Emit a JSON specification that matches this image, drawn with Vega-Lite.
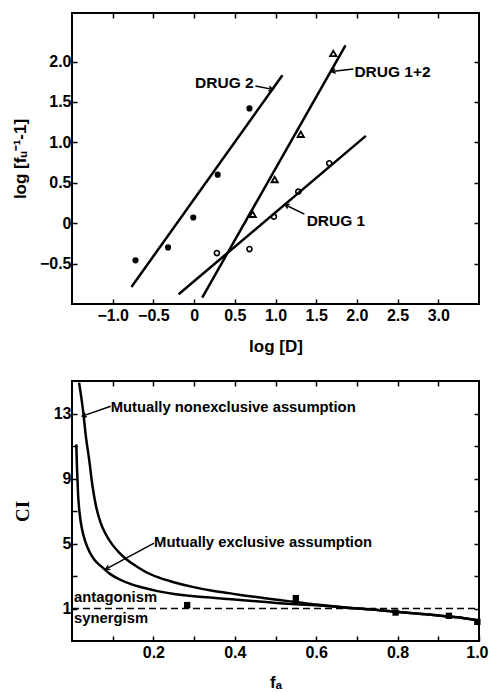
{
  "$schema": "https://vega.github.io/schema/vega-lite/v6.json",
  "background": "white",
  "padding": {"left": 10, "top": 11, "right": 5, "bottom": 0},
  "spacing": 21,
  "config": {
    "view": {"stroke": "black", "strokeWidth": 2},
    "font": "Liberation Sans",
    "axis": {
      "domain": false, "grid": false, "tickColor": "black", "tickSize": -5, "tickWidth": 1.5,
      "labelFont": "Liberation Sans", "labelFontSize": 16, "labelFontWeight": "bold", "labelColor": "black",
      "labelOverlap": false, "labelFlush": false,
      "titleFont": "Liberation Sans", "titleFontSize": 17, "titleFontWeight": "bold", "titleColor": "black"
    }
  },
  "datasets": {
    "fits": [
      {"drug": "DRUG 2", "x": -0.77, "y": -0.79}, {"drug": "DRUG 2", "x": 1.085, "y": 1.83},
      {"drug": "DRUG 1", "x": -0.19, "y": -0.88}, {"drug": "DRUG 1", "x": 2.11, "y": 1.08},
      {"drug": "DRUG 1+2", "x": 0.10, "y": -0.92}, {"drug": "DRUG 1+2", "x": 1.86, "y": 2.20}
    ],
    "obs": [
      {"drug": "DRUG 2", "x": -0.72, "y": -0.46}, {"drug": "DRUG 2", "x": -0.32, "y": -0.30},
      {"drug": "DRUG 2", "x": -0.01, "y": 0.07}, {"drug": "DRUG 2", "x": 0.29, "y": 0.60},
      {"drug": "DRUG 2", "x": 0.68, "y": 1.42},
      {"drug": "DRUG 1", "x": 0.28, "y": -0.37}, {"drug": "DRUG 1", "x": 0.68, "y": -0.32},
      {"drug": "DRUG 1", "x": 0.98, "y": 0.08}, {"drug": "DRUG 1", "x": 1.28, "y": 0.39},
      {"drug": "DRUG 1", "x": 1.66, "y": 0.74},
      {"drug": "DRUG 1+2", "x": 0.72, "y": 0.11}, {"drug": "DRUG 1+2", "x": 0.99, "y": 0.54},
      {"drug": "DRUG 1+2", "x": 1.31, "y": 1.10}, {"drug": "DRUG 1+2", "x": 1.71, "y": 2.10}
    ],
    "arrowsTop": [
      {"arrow": "DRUG 2", "end": "tail", "x": 0.753, "y": 1.696}, {"arrow": "DRUG 2", "end": "head", "x": 0.966, "y": 1.655},
      {"arrow": "DRUG 1+2", "end": "tail", "x": 1.957, "y": 1.906}, {"arrow": "DRUG 1+2", "end": "head", "x": 1.687, "y": 1.875},
      {"arrow": "DRUG 1", "end": "tail", "x": 1.355, "y": 0.111}, {"arrow": "DRUG 1", "end": "head", "x": 1.118, "y": 0.228}
    ],
    "labelsTop": [
      {"text": "DRUG 2", "x": 0.012, "y": 1.733},
      {"text": "DRUG 1+2", "x": 1.969, "y": 1.875},
      {"text": "DRUG 1", "x": 1.383, "y": 0.025}
    ],
    "curves": [
      {"model": "nonexclusive", "fa": 0.0174, "ci": 14.9},
      {"model": "nonexclusive", "fa": 0.028, "ci": 13.0},
      {"model": "nonexclusive", "fa": 0.034, "ci": 11.6},
      {"model": "nonexclusive", "fa": 0.042, "ci": 10.2},
      {"model": "nonexclusive", "fa": 0.050, "ci": 8.6},
      {"model": "nonexclusive", "fa": 0.059, "ci": 7.3},
      {"model": "nonexclusive", "fa": 0.070, "ci": 6.3},
      {"model": "nonexclusive", "fa": 0.083, "ci": 5.57},
      {"model": "nonexclusive", "fa": 0.100, "ci": 4.9},
      {"model": "nonexclusive", "fa": 0.116, "ci": 4.44},
      {"model": "nonexclusive", "fa": 0.135, "ci": 4.0},
      {"model": "nonexclusive", "fa": 0.157, "ci": 3.62},
      {"model": "nonexclusive", "fa": 0.185, "ci": 3.2},
      {"model": "nonexclusive", "fa": 0.214, "ci": 2.9},
      {"model": "nonexclusive", "fa": 0.250, "ci": 2.62},
      {"model": "nonexclusive", "fa": 0.296, "ci": 2.33},
      {"model": "nonexclusive", "fa": 0.345, "ci": 2.09},
      {"model": "nonexclusive", "fa": 0.390, "ci": 1.93},
      {"model": "nonexclusive", "fa": 0.427, "ci": 1.78},
      {"model": "nonexclusive", "fa": 0.470, "ci": 1.65},
      {"model": "nonexclusive", "fa": 0.509, "ci": 1.52},
      {"model": "nonexclusive", "fa": 0.550, "ci": 1.40},
      {"model": "nonexclusive", "fa": 0.600, "ci": 1.24},
      {"model": "nonexclusive", "fa": 0.670, "ci": 1.06},
      {"model": "nonexclusive", "fa": 0.730, "ci": 0.95},
      {"model": "nonexclusive", "fa": 0.795, "ci": 0.80},
      {"model": "nonexclusive", "fa": 0.860, "ci": 0.66},
      {"model": "nonexclusive", "fa": 0.918, "ci": 0.53},
      {"model": "nonexclusive", "fa": 0.960, "ci": 0.42},
      {"model": "nonexclusive", "fa": 1.000, "ci": 0.25},
      {"model": "exclusive", "fa": 0.0105, "ci": 11.1},
      {"model": "exclusive", "fa": 0.0125, "ci": 9.5},
      {"model": "exclusive", "fa": 0.015, "ci": 8.0},
      {"model": "exclusive", "fa": 0.019, "ci": 6.8},
      {"model": "exclusive", "fa": 0.0256, "ci": 5.77},
      {"model": "exclusive", "fa": 0.033, "ci": 5.1},
      {"model": "exclusive", "fa": 0.042, "ci": 4.54},
      {"model": "exclusive", "fa": 0.055, "ci": 4.0},
      {"model": "exclusive", "fa": 0.075, "ci": 3.52},
      {"model": "exclusive", "fa": 0.095, "ci": 3.1},
      {"model": "exclusive", "fa": 0.116, "ci": 2.8},
      {"model": "exclusive", "fa": 0.145, "ci": 2.5},
      {"model": "exclusive", "fa": 0.173, "ci": 2.29},
      {"model": "exclusive", "fa": 0.210, "ci": 2.07},
      {"model": "exclusive", "fa": 0.255, "ci": 1.88},
      {"model": "exclusive", "fa": 0.300, "ci": 1.75},
      {"model": "exclusive", "fa": 0.345, "ci": 1.66},
      {"model": "exclusive", "fa": 0.400, "ci": 1.55},
      {"model": "exclusive", "fa": 0.460, "ci": 1.43},
      {"model": "exclusive", "fa": 0.509, "ci": 1.33},
      {"model": "exclusive", "fa": 0.550, "ci": 1.26},
      {"model": "exclusive", "fa": 0.600, "ci": 1.20},
      {"model": "exclusive", "fa": 0.670, "ci": 1.06},
      {"model": "exclusive", "fa": 0.730, "ci": 0.95},
      {"model": "exclusive", "fa": 0.795, "ci": 0.80},
      {"model": "exclusive", "fa": 0.860, "ci": 0.66},
      {"model": "exclusive", "fa": 0.918, "ci": 0.53},
      {"model": "exclusive", "fa": 0.960, "ci": 0.42},
      {"model": "exclusive", "fa": 1.000, "ci": 0.25}
    ],
    "ciObs": [
      {"fa": 0.283, "ci": 1.21}, {"fa": 0.55, "ci": 1.64}, {"fa": 0.795, "ci": 0.75},
      {"fa": 0.926, "ci": 0.55}, {"fa": 0.996, "ci": 0.18}
    ],
    "refline": [{"fa": 0, "ci": 1}, {"fa": 1, "ci": 1}],
    "arrowsBot": [
      {"arrow": "nonexclusive", "end": "tail", "fa": 0.095, "ci": 13.45}, {"arrow": "nonexclusive", "end": "head", "fa": 0.0255, "ci": 12.84},
      {"arrow": "exclusive", "end": "tail", "fa": 0.2017, "ci": 5.02}, {"arrow": "exclusive", "end": "head", "fa": 0.083, "ci": 3.42}
    ],
    "labelsBot": [
      {"text": "Mutually nonexclusive assumption", "fa": 0.095, "ci": 13.35},
      {"text": "Mutually exclusive assumption", "fa": 0.2017, "ci": 5.05},
      {"text": "antagonism", "fa": 0.005, "ci": 1.65},
      {"text": "synergism", "fa": 0.005, "ci": 0.35}
    ]
  },
  "vconcat": [
    {
      "width": 407, "height": 291,
      "resolve": {"axis": {"x": "independent", "y": "independent"}},
      "layer": [
        {
          "data": {"name": "fits"},
          "mark": {"type": "line", "color": "black", "strokeWidth": 2.5},
          "encoding": {
            "x": {"field": "x", "type": "quantitative", "scale": {"domain": [-1.5, 3.5], "nice": false, "zero": false},
                  "axis": {"orient": "bottom", "values": [-1, -0.5, 0, 0.5, 1, 1.5, 2, 2.5, 3], "labelExpr": "datum.value == 0 ? '0' : format(datum.value, '.1f')", "labelPadding": 8, "title": "log [D]", "titlePadding": 15}},
            "y": {"field": "y", "type": "quantitative", "scale": {"domain": [-1, 2.6], "nice": false, "zero": false},
                  "axis": {"orient": "left", "values": [-0.5, 0, 0.5, 1, 1.5, 2], "labelExpr": "datum.value == 0 ? '0' : format(datum.value, '.1f')", "labelPadding": 6, "title": "log [fᵤ⁻¹-1]", "titlePadding": 10}},
            "detail": {"field": "drug"}
          }
        },
        {
          "data": {"name": "obs"},
          "transform": [{"filter": "datum.drug == 'DRUG 2'"}],
          "mark": {"type": "point", "shape": "circle", "filled": true, "color": "black", "size": 38, "opacity": 1},
          "encoding": {
            "x": {"field": "x", "type": "quantitative", "axis": {"orient": "top", "values": [-1, -0.5, 0, 0.5, 1, 1.5, 2, 2.5, 3], "labels": false, "title": null}},
            "y": {"field": "y", "type": "quantitative", "axis": {"orient": "right", "values": [-0.5, 0, 0.5, 1, 1.5, 2], "labels": false, "title": null}}
          }
        },
        {
          "data": {"name": "obs"},
          "transform": [{"filter": "datum.drug == 'DRUG 1'"}],
          "mark": {"type": "point", "shape": "circle", "filled": false, "color": "black", "size": 26, "strokeWidth": 1.6, "opacity": 1},
          "encoding": {
            "x": {"field": "x", "type": "quantitative", "axis": null},
            "y": {"field": "y", "type": "quantitative", "axis": null}
          }
        },
        {
          "data": {"name": "obs"},
          "transform": [{"filter": "datum.drug == 'DRUG 1+2'"}],
          "mark": {"type": "point", "shape": "triangle-up", "filled": false, "color": "black", "size": 40, "strokeWidth": 1.8, "opacity": 1},
          "encoding": {
            "x": {"field": "x", "type": "quantitative", "axis": null},
            "y": {"field": "y", "type": "quantitative", "axis": null}
          }
        },
        {
          "data": {"name": "arrowsTop"},
          "mark": {"type": "line", "color": "black", "strokeWidth": 1.5},
          "encoding": {
            "x": {"field": "x", "type": "quantitative", "axis": null},
            "y": {"field": "y", "type": "quantitative", "axis": null},
            "detail": {"field": "arrow"}
          }
        },
        {
          "data": {"name": "arrowsTop"},
          "transform": [{"filter": "datum.end == 'head' && datum.arrow == 'DRUG 2'"}],
          "mark": {"type": "point", "shape": "M-1,-0.6L0,0L-1,0.6", "filled": false, "color": "black", "strokeWidth": 1.5, "size": 60, "angle": 11, "opacity": 1},
          "encoding": {
            "x": {"field": "x", "type": "quantitative", "axis": null},
            "y": {"field": "y", "type": "quantitative", "axis": null}
          }
        },
        {
          "data": {"name": "arrowsTop"},
          "transform": [{"filter": "datum.end == 'head' && datum.arrow == 'DRUG 1+2'"}],
          "mark": {"type": "point", "shape": "M-1,-0.6L0,0L-1,0.6", "filled": false, "color": "black", "strokeWidth": 1.5, "size": 60, "angle": 170, "opacity": 1},
          "encoding": {
            "x": {"field": "x", "type": "quantitative", "axis": null},
            "y": {"field": "y", "type": "quantitative", "axis": null}
          }
        },
        {
          "data": {"name": "arrowsTop"},
          "transform": [{"filter": "datum.end == 'head' && datum.arrow == 'DRUG 1'"}],
          "mark": {"type": "point", "shape": "M-1,-0.6L0,0L-1,0.6", "filled": false, "color": "black", "strokeWidth": 1.5, "size": 60, "angle": 205, "opacity": 1},
          "encoding": {
            "x": {"field": "x", "type": "quantitative", "axis": null},
            "y": {"field": "y", "type": "quantitative", "axis": null}
          }
        },
        {
          "data": {"name": "labelsTop"},
          "mark": {"type": "text", "align": "left", "baseline": "middle", "font": "Liberation Sans", "fontWeight": "bold", "fontSize": 15.5, "color": "black"},
          "encoding": {
            "x": {"field": "x", "type": "quantitative", "axis": null},
            "y": {"field": "y", "type": "quantitative", "axis": null},
            "text": {"field": "text"}
          }
        }
      ]
    },
    {
      "width": 407, "height": 260,
      "resolve": {"axis": {"x": "independent", "y": "independent"}},
      "layer": [
        {
          "data": {"name": "curves"},
          "mark": {"type": "line", "color": "black", "strokeWidth": 2.5, "interpolate": "monotone"},
          "encoding": {
            "x": {"field": "fa", "type": "quantitative", "scale": {"domain": [0, 1], "nice": false, "zero": false},
                  "axis": {"orient": "bottom", "values": [0.1, 0.2, 0.3, 0.4, 0.5, 0.6, 0.7, 0.8, 0.9, 1.0], "labelExpr": "round(datum.value * 10) % 2 == 0 ? format(datum.value, '.1f') : ''", "labelPadding": 8, "labelFlush": true, "labelFlushOffset": 9, "title": "fₐ", "titlePadding": 14}},
            "y": {"field": "ci", "type": "quantitative", "scale": {"domain": [-1, 15], "nice": false, "zero": false},
                  "axis": {"orient": "left", "values": [1, 3, 5, 7, 9, 11, 13], "labelExpr": "(datum.value - 1) % 4 == 0 ? datum.label : ''", "labelPadding": 6, "title": "CI", "titleFont": "Liberation Serif", "titleFontSize": 19, "titlePadding": 21}},
            "detail": {"field": "model"}
          }
        },
        {
          "data": {"name": "refline"},
          "mark": {"type": "line", "color": "black", "strokeWidth": 1.5, "strokeDash": [7, 4]},
          "encoding": {
            "x": {"field": "fa", "type": "quantitative", "axis": {"orient": "top", "values": [0.1, 0.2, 0.3, 0.4, 0.5, 0.6, 0.7, 0.8, 0.9], "labels": false, "title": null}},
            "y": {"field": "ci", "type": "quantitative", "axis": {"orient": "right", "values": [1, 3, 5, 7, 9, 11, 13], "labels": false, "title": null}}
          }
        },
        {
          "data": {"name": "ciObs"},
          "mark": {"type": "point", "shape": "square", "filled": true, "color": "black", "size": 40, "opacity": 1},
          "encoding": {
            "x": {"field": "fa", "type": "quantitative", "axis": null},
            "y": {"field": "ci", "type": "quantitative", "axis": null}
          }
        },
        {
          "data": {"name": "arrowsBot"},
          "mark": {"type": "line", "color": "black", "strokeWidth": 1.5},
          "encoding": {
            "x": {"field": "fa", "type": "quantitative", "axis": null},
            "y": {"field": "ci", "type": "quantitative", "axis": null},
            "detail": {"field": "arrow"}
          }
        },
        {
          "data": {"name": "arrowsBot"},
          "transform": [{"filter": "datum.end == 'head' && datum.arrow == 'nonexclusive'"}],
          "mark": {"type": "point", "shape": "M-1,-0.6L0,0L-1,0.6", "filled": false, "color": "black", "strokeWidth": 1.5, "size": 60, "angle": 161, "opacity": 1},
          "encoding": {
            "x": {"field": "fa", "type": "quantitative", "axis": null},
            "y": {"field": "ci", "type": "quantitative", "axis": null}
          }
        },
        {
          "data": {"name": "arrowsBot"},
          "transform": [{"filter": "datum.end == 'head' && datum.arrow == 'exclusive'"}],
          "mark": {"type": "point", "shape": "M-1,-0.6L0,0L-1,0.6", "filled": false, "color": "black", "strokeWidth": 1.5, "size": 60, "angle": 152, "opacity": 1},
          "encoding": {
            "x": {"field": "fa", "type": "quantitative", "axis": null},
            "y": {"field": "ci", "type": "quantitative", "axis": null}
          }
        },
        {
          "data": {"name": "labelsBot"},
          "mark": {"type": "text", "align": "left", "baseline": "middle", "font": "Liberation Sans", "fontWeight": "bold", "fontSize": 14.8, "color": "black"},
          "encoding": {
            "x": {"field": "fa", "type": "quantitative", "axis": null},
            "y": {"field": "ci", "type": "quantitative", "axis": null},
            "text": {"field": "text"}
          }
        }
      ]
    }
  ]
}
